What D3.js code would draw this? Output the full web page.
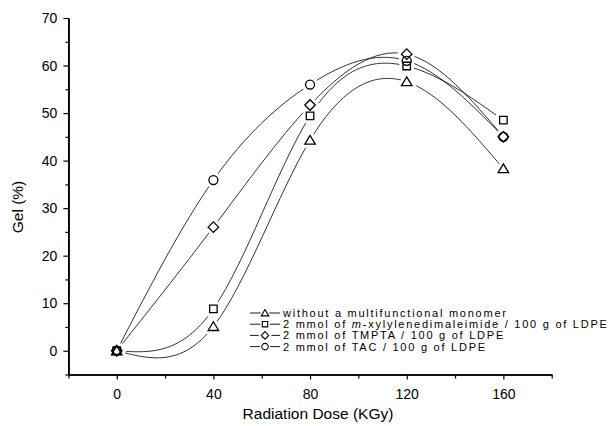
<!DOCTYPE html>
<html>
<head>
    <script src="https://d3js.org/d3.v7.min.js"></script>
    <style>
        body { margin: 0; background: #fff; }
        .axis path, .axis line { stroke: #000; }
        .axis text { font: 14px "Liberation Sans", Arial, sans-serif; fill: #000; }
        .title { font: 15.5px "Liberation Sans", Arial, sans-serif; fill: #000; }
        .legend text { font: 11px "Liberation Sans", Arial, sans-serif; fill: #000; letter-spacing: 1.75px; }
    </style>
</head>
<body>
    <script>
        var doses = [0, 40, 80, 120, 160];
        var noMonomer = [0, 5.1, 44.3, 56.6, 38.3];
        var xylylene = [0, 8.8, 49.4, 59.9, 48.5];
        var tmpta = [0, 26, 51.7, 62.4, 45];
        var tac = [0, 35.9, 56, 61, 45];
        var seriesNames = [
            "without a multifunctional monomer",
            "2 mmol of m-xylylenedimaleimide / 100 g of LDPE",
            "2 mmol of TMPTA / 100 g of LDPE",
            "2 mmol of TAC / 100 g of LDPE"
        ];
        var xTicks = [0, 40, 80, 120, 160];
        var yTicks = [0, 10, 20, 30, 40, 50, 60, 70];

        var series = [
            { name: seriesNames[0], values: noMonomer, shape: "triangle" },
            { name: seriesNames[1], values: xylylene, shape: "square" },
            { name: seriesNames[2], values: tmpta, shape: "diamond" },
            { name: seriesNames[3], values: tac, shape: "circle" }
        ];

        var svg = d3.select("body").append("svg")
            .attr("width", 613)
            .attr("height", 426);

        var x = d3.scaleLinear().domain([-20, 180]).range([68.4, 551.7]);
        var y = d3.scaleLinear().domain([-5, 70]).range([374.5, 18]);

        // axes
        svg.append("g")
            .attr("class", "axis")
            .attr("transform", "translate(0," + y(-5) + ")")
            .call(d3.axisBottom(x).tickValues(xTicks).tickSize(5).tickSizeOuter(0).tickPadding(10));
        svg.append("g")
            .attr("class", "axis")
            .attr("transform", "translate(0," + y(-5) + ")")
            .call(d3.axisBottom(x).tickValues([-20, 20, 60, 100, 140, 180]).tickSize(4).tickSizeOuter(0).tickFormat(""));

        svg.append("g")
            .attr("class", "axis")
            .attr("transform", "translate(" + x(-20) + ",0)")
            .call(d3.axisLeft(y).tickValues(yTicks).tickSize(5).tickSizeOuter(0).tickPadding(6));
        svg.append("g")
            .attr("class", "axis")
            .attr("transform", "translate(" + x(-20) + ",0)")
            .call(d3.axisLeft(y).tickValues([-5, 5, 15, 25, 35, 45, 55, 65]).tickSize(3).tickSizeOuter(0).tickFormat(""));

        svg.selectAll(".axis path").attr("stroke-width", 1.6);
        svg.selectAll(".axis line").attr("stroke-width", 1.2);

        svg.append("text")
            .attr("class", "title")
            .attr("x", 318)
            .attr("y", 419)
            .attr("text-anchor", "middle")
            .text("Radiation Dose (KGy)");

        svg.append("text")
            .attr("class", "title")
            .attr("transform", "translate(23,207) rotate(-90)")
            .attr("text-anchor", "middle")
            .text("Gel (%)");

        // curves
        var line = d3.line()
            .x(function (d, i) { return x(doses[i]); })
            .y(function (d) { return y(d); })
            .curve(d3.curveNatural);

        svg.append("g").selectAll("path")
            .data(series)
            .enter().append("path")
            .attr("d", function (d) { return line(d.values); })
            .attr("fill", "none")
            .attr("stroke", "#000")
            .attr("stroke-width", 0.8);

        function symbolPath(shape, s) {
            if (shape === "triangle") return "M0," + (-s * 0.95) + "L" + (s * 1.05) + "," + (s * 0.8) + "L" + (-s * 1.05) + "," + (s * 0.8) + "Z";
            if (shape === "square") return "M" + (-s * 0.75) + "," + (-s * 0.75) + "h" + (s * 1.5) + "v" + (s * 1.5) + "h" + (-s * 1.5) + "Z";
            if (shape === "diamond") return "M0," + (-s * 1.05) + "L" + (s * 1.05) + ",0L0," + (s * 1.05) + "L" + (-s * 1.05) + ",0Z";
            return d3.arc()({ innerRadius: 0, outerRadius: s * 0.9, startAngle: 0, endAngle: 2 * Math.PI });
        }

        var points = [];
        series.forEach(function (s) {
            s.values.forEach(function (v, i) {
                points.push({ shape: s.shape, px: x(doses[i]), py: y(v) });
            });
        });

        // white gaps round the markers
        svg.append("g").selectAll("path")
            .data(points)
            .enter().append("path")
            .attr("transform", function (d) { return "translate(" + d.px + "," + d.py + ")"; })
            .attr("d", function (d) { return symbolPath(d.shape, 5); })
            .attr("fill", "#fff")
            .attr("stroke", "#fff")
            .attr("stroke-width", 7);

        svg.append("g").selectAll("path")
            .data(points)
            .enter().append("path")
            .attr("transform", function (d) { return "translate(" + d.px + "," + d.py + ")"; })
            .attr("d", function (d) { return symbolPath(d.shape, 5); })
            .attr("fill", "none")
            .attr("stroke", "#000")
            .attr("stroke-width", 1.3);

        // legend
        var legend = svg.append("g").attr("class", "legend");
        var rows = legend.selectAll("g")
            .data(series)
            .enter().append("g")
            .attr("transform", function (d, i) { return "translate(250," + (313 + i * 11.2) + ")"; });

        rows.append("line")
            .attr("x1", 0).attr("x2", 30)
            .attr("stroke", "#000")
            .attr("stroke-width", 0.9);
        rows.append("path")
            .attr("transform", "translate(15,0)")
            .attr("d", function (d) { return symbolPath(d.shape, 3.6); })
            .attr("fill", "#fff")
            .attr("stroke", "#fff")
            .attr("stroke-width", 4);
        rows.append("path")
            .attr("transform", "translate(15,0)")
            .attr("d", function (d) { return symbolPath(d.shape, 3.6); })
            .attr("fill", "none")
            .attr("stroke", "#000")
            .attr("stroke-width", 1.1);

        var texts = rows.append("text")
            .attr("x", 33)
            .attr("y", 4);
        texts.each(function (d) {
            var t = d3.select(this);
            if (d.name.indexOf("m-xylylene") >= 0) {
                t.append("tspan").text("2 mmol of ");
                t.append("tspan").style("font-style", "italic").text("m");
                t.append("tspan").text("-xylylenedimaleimide / 100 g of LDPE");
            } else {
                t.text(d.name);
            }
        });
    </script>
</body>
</html>
